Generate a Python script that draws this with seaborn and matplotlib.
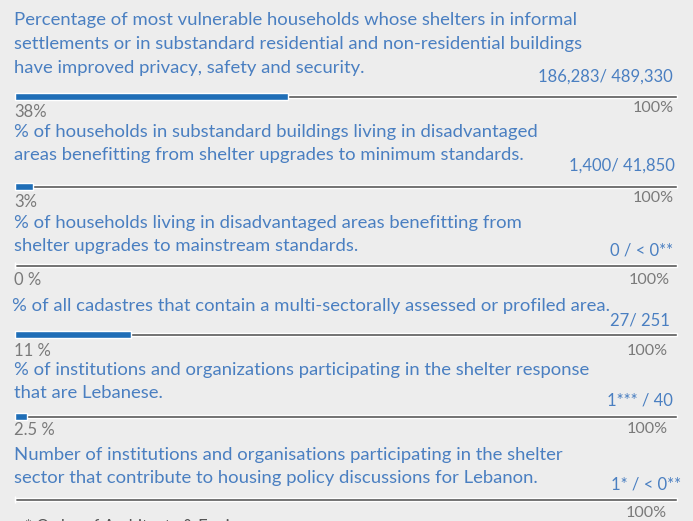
import matplotlib
matplotlib.use('Agg')
import matplotlib.pyplot as plt
import seaborn as sns
import pandas as pd

# indicator titles (one entry per row, lines split as in the original)
titles = [
    ['Percentage of most vulnerable households whose shelters in informal',
     'settlements or in substandard residential and non-residential buildings',
     'have improved privacy, safety and security.'],
    ['% of households in substandard buildings living in disadvantaged',
     'areas benefitting from shelter upgrades to minimum standards.'],
    ['% of households living in disadvantaged areas benefitting from',
     'shelter upgrades to mainstream standards.'],
    ['% of all cadastres that contain a multi-sectorally assessed or profiled area.'],
    ['% of institutions and organizations participating in the shelter response',
     'that are Lebanese.'],
    ['Number of institutions and organisations participating in the shelter',
     'sector that contribute to housing policy discussions for Lebanon.'],
]
achieved = ['186,283/ 489,330', '1,400/ 41,850', '0 / < 0**', '27/ 251', '1*** / 40', '1* / < 0**']
pct_labels = ['38%', '3%', '0 %', '11 %', '2.5 %', '']
target_labels = ['100%', '100%', '100%', '100%', '100%', '100%']
# length of the blue fill as drawn (share of the track)
bar_fill = [41.2, 2.7, 0, 17.5, 1.8, 0]

# layout, in pixels from the top of the image
W, H = 693, 521
track_y = [96, 186, 265, 334, 416, 499]
title_y = [[20, 44, 68], [132, 155], [223, 246], [306], [370, 393], [455, 478]]
title_x = [14, 14, 14, 12, 14, 14]
value_y = [77, 166, 250, 321, 400, 485]
value_x = [673, 675, 673, 670, 673, 681]
pct_y = [112, 202, 280, 351, 430, 513]
target_y = [108, 198, 280, 351, 429, 513]
target_x = [674, 674, 670, 668, 668, 667]

x0, x1 = 15, 677  # track start/end in pixels

BG = '#ededed'
BLUE_TXT = '#4a7fc1'
BLUE_BAR = '#1f6eb7'
GREY_TXT = '#7a7a7a'
TRACK = '#555555'

sns.set_theme(style='white')
plt.rcParams['font.family'] = ['Lato', 'DejaVu Sans']

fig = plt.figure(figsize=(W / 100, H / 100), dpi=100)
fig.patch.set_facecolor(BG)
ax = fig.add_axes([0, 0, 1, 1])
ax.set_facecolor(BG)

df = pd.DataFrame({'fill': bar_fill, 'full': [100] * len(bar_fill), 'y': track_y})
min_gap = min(b - a for a, b in zip(sorted(track_y), sorted(track_y)[1:]))

sns.barplot(data=df, x='full', y='y', orient='h', native_scale=True,
            width=3 / min_gap, color=TRACK, saturation=1, ax=ax)
sns.barplot(data=df, x='fill', y='y', orient='h', native_scale=True,
            width=7 / min_gap, color=BLUE_BAR, saturation=1, ax=ax)

# map 0..100 onto the track pixels
scale = (x1 - x0) / 100
ax.set_xlim(-x0 / scale, (W - x0) / scale)
ax.set_ylim(H, 0)
ax.axis('off')

def px(x, y):
    return x / W, 1 - y / H

fs = 13.3
for i in range(len(titles)):
    for line, ty in zip(titles[i], title_y[i]):
        fig.text(*px(title_x[i], ty), line, color=BLUE_TXT, fontsize=fs, va='center', ha='left')
    fig.text(*px(value_x[i], value_y[i]), achieved[i], color=BLUE_TXT, fontsize=12,
             va='center', ha='right')
    if pct_labels[i]:
        fig.text(*px(14, pct_y[i]), pct_labels[i], color=GREY_TXT, fontsize=12,
                 va='center', ha='left')
    fig.text(*px(target_x[i], target_y[i]), target_labels[i], color=GREY_TXT, fontsize=11.6,
             va='center', ha='right')

fig.text(*px(25, 527), '* Order of Architects & Engineers', color='#555555',
         fontsize=12, va='center', ha='left')

plt.savefig('out.png', dpi=100, facecolor=BG)
